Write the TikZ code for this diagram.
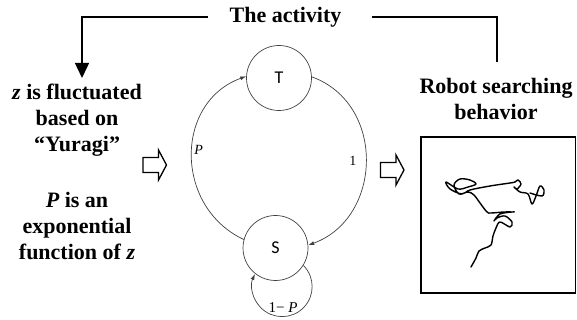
\documentclass[tikz,border=0pt]{standalone}
\usepackage{fontspec}
\setmainfont{Liberation Serif}
\newfontfamily\statefont{Carlito}
\usetikzlibrary{arrows.meta}

\tikzset{
  hollowarrow/.pic={
    \draw[line width=1.3pt, line join=miter, fill=white]
      (-11.5,-7.5) -- (4,-7.5) -- (4,-15) -- (12,0) -- (4,15)
      -- (4,7.5) -- (-11.5,7.5) -- cycle;
  }
}

\begin{document}
\begin{tikzpicture}[x=1pt, y=1pt,
  state/.style={circle, draw=black!75, line width=0.7pt, minimum size=65pt,
    inner sep=0pt, font=\statefont\fontsize{18}{18}\selectfont},
  caption/.style={font=\bfseries\fontsize{22}{26}\selectfont, align=center, inner sep=0pt},
  edgelbl/.style={font=\fontsize{14}{14}\selectfont, inner sep=0pt},
  trans/.style={draw=black!75, line width=0.7pt, -{Latex[length=6pt,width=4pt]}},
  feedback/.style={line width=1.4pt},
]
\useasboundingbox (0,0) rectangle (577,320);

% heading and the two feedback lines
\node[caption] (activity) at (285.5,303) {The activity};
\node[caption] (fluct) at (77,200) {\textit{z} is fluctuated\\based on\\“Yuragi”};
\node[caption] (expo) at (77,94) {\textit{P} is an\\exponential\\function of \textit{z}};
\node[caption] (robot) at (496,221) {Robot searching\\behavior};

\coordinate (fluctin) at (82,242);
\coordinate (robotout) at (497,258);
\draw[feedback, -{Triangle[length=15pt,width=14pt]}]
  ([xshift=-21pt]activity.west) -| (fluctin);
\draw[feedback] ([xshift=30pt]activity.east) -| (robotout);

% two-state machine
\node[state] (T) at (279,242) {T};
\node[state] (S) at (275.5,72) {S};

\draw[trans] (S.165) to[out=155, in=200, looseness=1.2]
  node[edgelbl, pos=0.53, right=2pt] {\textit{P}} (T.177);
\draw[trans] (T.2) to[out=-20, in=20, looseness=1.2]
  node[edgelbl, pos=0.5, left=9pt] {1} (S.5);
\draw[trans] (S.-32) arc[start angle=45, end angle=-205, radius=30];
\node[edgelbl, font=\fontsize{15}{15}\selectfont] (stay) at (283,12) {1− \textit{P}};

% block arrows
\pic at (154.5,155) {hollowarrow};
\pic at (392,150) {hollowarrow};

% robot trajectory
\draw[line width=1.3pt] (421,27) rectangle (575.5,183);
\draw[line width=1.4pt, line cap=round, line join=round]
  plot[smooth, tension=0.55] coordinates {
  (471,53) (476,62) (479,69) (485,72) (491,75) (493,84) (496,92) (500,98)
  (510,93) (512,98) (505,104) (497,102) (494,99) (500,106) (512,108)
  (514,108) (504,108) (491,107) (487,108) (480,117) (474,125) (468,128)
  (459,126) (454,135) (460,141) (470,140) (476,136) (468,133) (458,131)
  (446,138) (450,131) (462,126) (470,130) (490,134) (510,137) (515,138)
  (518,140) (521,136) (517,131) (514,133) (520,128) (528,126) (532,116)
  (536,124) (540,134) (544,130) (542,124) (530,127)};
\end{tikzpicture}
\end{document}
